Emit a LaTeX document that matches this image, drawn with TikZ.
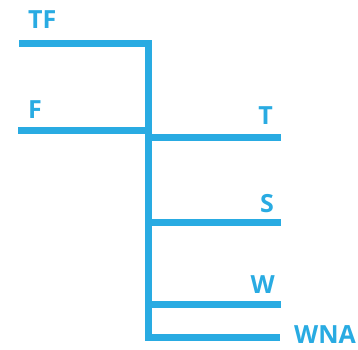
\documentclass[tikz,border=0pt]{standalone}
\usepackage{fontspec}
\setmainfont{Open Sans}
\definecolor{sky}{RGB}{41,171,226}
\tikzset{
  wire/.style={draw=sky, line width=7pt, line cap=butt, line join=miter},
  lbl/.style={text=sky, font=\fontsize{25}{25}\selectfont\bfseries, inner sep=0pt}
}
\begin{document}
\begin{tikzpicture}[x=1pt,y=-1pt]
\useasboundingbox (0,0) rectangle (358,349);
% coordinates
\coordinate (tfl) at (19,43);
\coordinate (top) at (148,43);
\coordinate (bot) at (148,337);
\coordinate (fl) at (18,130);
\coordinate (fr) at (148,130);
\coordinate (tl) at (148,137);
\coordinate (tr) at (281,137);
\coordinate (sl) at (148,222);
\coordinate (sr) at (281,222);
\coordinate (wl) at (148,304);
\coordinate (wr) at (281,304);
\coordinate (wnar) at (280,337);
% lines
\draw[wire] (tfl) -- (top) -- (bot) -- (wnar);
\draw[wire] (fl) -- (fr);
\draw[wire] (tl) -- (tr);
\draw[wire] (sl) -- (sr);
\draw[wire] (wl) -- (wr);
% labels
\node[lbl, anchor=base west] (tf) at (28,28) {TF};
\node[lbl, anchor=base west] (f) at (28,118) {F};
\node[lbl, anchor=base east] (t) at (273,124) {T};
\node[lbl, anchor=base east] (s) at (274,212) {S};
\node[lbl, anchor=base east] (w) at (275,293) {W};
\node[lbl, anchor=base west] (wna) at (294,343) {WNA};
\end{tikzpicture}
\end{document}
